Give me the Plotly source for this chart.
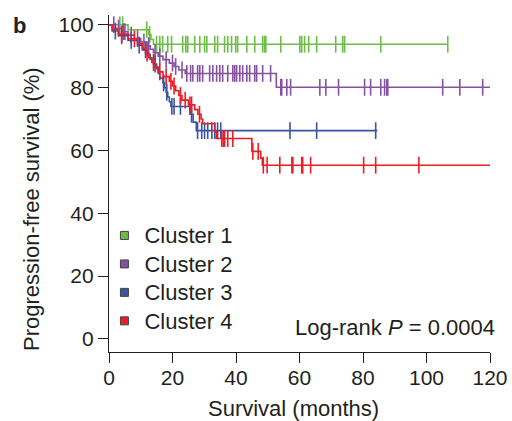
import numpy as np
import plotly.graph_objects as go

# ---------------- data ----------------
names = ["Cluster 1", "Cluster 2", "Cluster 3", "Cluster 4"]
colors = ["#6cbd45", "#8552a1", "#3953a4", "#ed1c24"]

c1_event_t = [6, 12.5, 13.2, 14]
c1_event_s = [98.4, 96.9, 95.3, 93.8]
c1_censor_t = [3.4, 4.3, 11.9, 12.8, 15.0, 16.0, 16.9, 18.5, 19.7, 23.2, 24.2, 24.8,
               27.0, 28.6, 30.1, 30.8, 33.3, 34.2, 36.4, 37.4, 38.6, 39.9, 40.5, 43.4,
               45.9, 48.4, 49.0, 49.4, 54.1, 60.1, 60.7, 61.6, 62.9, 65.4, 71.4, 73.6,
               74.2, 85.6, 106.7]
c1_end_t = 106.7

c2_event_t = [2, 4, 6, 8, 10, 12, 13, 14, 15.5, 17, 19, 20.5, 22, 24, 52.7]
c2_event_s = [98.9, 97.8, 96.7, 95.6, 94.5, 93.3, 92.2, 91.1, 90.0, 88.9, 87.8,
              86.7, 85.6, 84.5, 80.1]
c2_censor_t = [1.5, 3, 4.5, 5, 7, 9, 11, 12.5, 14.5, 16, 18, 20, 21, 23,
               24.5, 25.7, 26.4, 27.9, 28.6, 29.5, 31.7, 32.7, 33.9, 34.9, 35.8, 37.4,
               39.0, 39.6, 40.2, 41.2, 42.1, 43.4, 44.3, 45.9, 46.5, 48.4, 50.9,
               54.1, 54.4, 56.0, 57.2, 66.4, 68.3, 72.3, 80.5, 82.4, 85.6, 86.8, 87.5,
               87.8, 105.1, 110.5, 117.7]
c2_end_t = 120

c3_event_t = [1, 3, 6, 9, 10.5, 12, 13, 14, 15, 15.5, 16, 17, 17.5, 18, 18.5, 19,
              19.5, 25.5, 26.5, 27.5]
c3_event_s = [98, 96.5, 95, 93.5, 92, 90.5, 89, 87.5, 86, 84.5, 83, 81.5, 80, 78.5,
              77, 75.5, 74, 71.5, 69, 66.3]
c3_censor_t = [2, 4, 7, 9.5, 11.5, 14.5, 17.2, 18.2, 19.8, 20.5, 22.5, 26.0,
               27.9, 29.2, 30.1, 31.1, 32.4, 33.3, 34.2, 35.2, 57.0, 65.4, 84.0]
c3_end_t = 84.5

c4_event_t = [1, 3, 6, 9, 10.5, 11.5, 12.5, 13.5, 14.5, 15.5, 17, 19, 20, 21, 22, 23,
              25, 27, 28, 29, 29.5, 33.3, 33.8, 45, 47.8, 48.3]
c4_event_s = [98.5, 97, 95.5, 94, 92.5, 91, 89.5, 88, 86.5, 85, 83.5, 82, 80.5, 79,
              77.5, 76, 74.5, 73, 71.5, 70, 68.5, 66, 63.8, 59.7, 57.5, 55.3]
c4_censor_t = [4, 8, 12, 14, 16, 18, 19.5, 20.5, 22.5, 24, 25.5, 26, 28.5, 35.5, 36,
               36.4, 37.4, 39.0, 45.3, 47, 48.6, 49.8, 53.8, 57.6, 57.9, 60.7, 61.0,
               63.5, 80.2, 84.0, 97.6]
c4_end_t = 120

event_t = [c1_event_t, c2_event_t, c3_event_t, c4_event_t]
event_s = [c1_event_s, c2_event_s, c3_event_s, c4_event_s]
censor_t = [c1_censor_t, c2_censor_t, c3_censor_t, c4_censor_t]
end_t = [c1_end_t, c2_end_t, c3_end_t, c4_end_t]

x_ticks = [0, 20, 40, 60, 80, 100, 120]
y_ticks = [0, 20, 40, 60, 80, 100]

FONT = "Liberation Sans, Arial, sans-serif"
TXT = "#231f20"

fig = go.Figure()

for i in range(4):
    et = np.array(event_t[i], dtype=float)
    es = np.array(event_s[i], dtype=float)
    lx = np.concatenate([[0.0], et, [end_t[i]]])
    ly = np.concatenate([[100.0], es, [es[-1]]])
    fig.add_trace(go.Scatter(x=lx, y=ly, mode="lines", line=dict(color=colors[i], width=1.6, shape="hv"),
                             showlegend=False, hoverinfo="skip"))
    ct = np.array(censor_t[i], dtype=float)
    idx = np.searchsorted(et, ct, side="right")
    cs = np.where(idx == 0, 100.0, es[np.maximum(idx - 1, 0)])
    fig.add_trace(go.Scatter(x=ct, y=cs, mode="markers",
                             marker=dict(symbol="line-ns", size=12, color=colors[i],
                                         line=dict(color=colors[i], width=1.6)),
                             showlegend=False, hoverinfo="skip"))

for i in range(4):
    fig.add_trace(go.Scatter(x=[None], y=[None], mode="markers",
                             name='<span style="font-size:22px">' + names[i] + "</span>",
                             marker=dict(symbol="square", size=8, color=colors[i],
                                         line=dict(color="#444", width=1))))

axis_common = dict(showline=True, linecolor="#231f20", linewidth=1.4, ticks="outside",
                   ticklen=10, tickwidth=1.4, tickcolor="#231f20", showgrid=False,
                   zeroline=False, automargin=False,
                   tickfont=dict(family=FONT, size=21, color=TXT))

fig.update_layout(
    width=512, height=421,
    margin=dict(l=109, r=22, t=15, b=69),
    plot_bgcolor="white", paper_bgcolor="white",
    xaxis=dict(range=[0, 120], tickvals=x_ticks, ticklabelstandoff=-3, **axis_common),
    yaxis=dict(range=[-4.14, 103.1], tickvals=y_ticks, **axis_common),
    legend=dict(x=-0.012, y=0.403, xanchor="left", yanchor="top", bgcolor="rgba(0,0,0,0)",
                font=dict(family=FONT, size=19.6, color=TXT), itemwidth=30, tracegroupgap=0),
    showlegend=True,
)

fig.add_annotation(text="Survival (months)", xref="paper", yref="paper",
                   x=(293.5 - 109) / 381, y=(352 - 408) / 337, xanchor="center", yanchor="middle",
                   showarrow=False, font=dict(family=FONT, size=22, color=TXT))
fig.add_annotation(text="Progression-free survival (%)", xref="paper", yref="paper",
                   x=(31 - 109) / 381, y=(352 - 209) / 337, xanchor="center", yanchor="middle",
                   textangle=-90, showarrow=False, font=dict(family=FONT, size=22, color=TXT))
fig.add_annotation(text="<b>b</b>", xref="paper", yref="paper",
                   x=(19 - 109) / 381, y=(352 - 25) / 337, xanchor="center", yanchor="middle",
                   showarrow=False, font=dict(family=FONT, size=22, color=TXT))
fig.add_annotation(text="Log-rank <i>P</i> = 0.0004", xref="paper", yref="paper",
                   x=(497 - 109) / 381, y=(352 - 327) / 337, xanchor="right", yanchor="middle",
                   showarrow=False, font=dict(family=FONT, size=22, color=TXT))

fig.write_html("out.html")
